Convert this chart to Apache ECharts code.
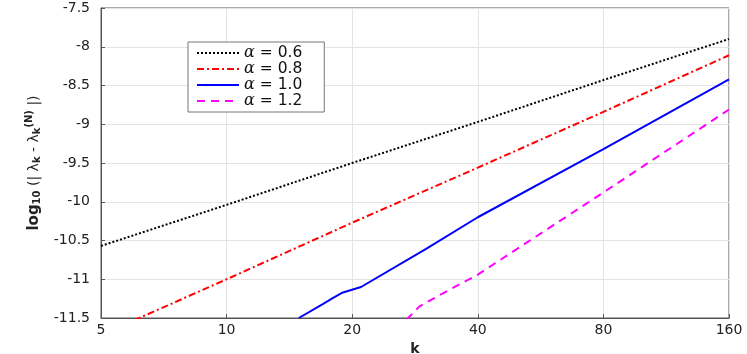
<!DOCTYPE html>
<html>
<head>
<meta charset="utf-8">
<script src="https://cdn.jsdelivr.net/npm/echarts@6/dist/echarts.min.js"></script>
<style>
html, body { margin: 0; padding: 0; background: #fff; }
#chart { width: 747px; height: 354px; }
</style>
</head>
<body>
<div id="chart"></div>
<script>
var seriesNames = ['α = 0.6', 'α = 0.8', 'α = 1.0', 'α = 1.2'];
var xTicks = [5, 10, 20, 40, 80, 160];

var k06 = [5, 10, 20, 40, 80, 160];
var y06 = [-10.57, -10.04, -9.50, -8.97, -8.43, -7.90];
var k08 = [6, 10, 20, 40, 80, 160];
var y08 = [-11.53, -11.00, -10.27, -9.56, -8.84, -8.11];
var k10 = [14.9, 17, 18, 19, 21, 30, 40, 80, 160];
var y10 = [-11.50, -11.32, -11.24, -11.17, -11.10, -10.61, -10.20, -9.32, -8.42];
var k12 = [27, 29, 32, 40, 80, 160];
var y12 = [-11.52, -11.35, -11.22, -10.94, -9.88, -8.81];

function pairs(ks, ys) {
  return ks.map(function (k, i) { return [k, ys[i]]; });
}

var myChart = echarts.init(document.getElementById('chart'));
var font = 'DejaVu Sans';

var option = {
  animation: false,
  backgroundColor: '#fff',
  grid: {
    left: 101, right: 18, top: 8, bottom: 36,
    outerBoundsMode: 'none',
    show: true, borderColor: '#555', borderWidth: 1
  },
  legend: {
    orient: 'vertical',
    left: 188, top: 42,
    padding: [3, 22, 3, 8],
    itemWidth: 42, itemHeight: 10, itemGap: 0,
    backgroundColor: '#fff',
    borderColor: '#777', borderWidth: 1, borderRadius: 0,
    data: seriesNames,
    itemStyle: { opacity: 0, borderWidth: 0 },
    formatter: function (name) {
      return '{a|α}' + name.slice(1);
    },
    textStyle: {
      fontFamily: font, fontSize: 15.5, lineHeight: 15, color: '#111',
      rich: {
        a: { fontFamily: 'DejaVu Serif', fontStyle: 'italic', fontSize: 16, lineHeight: 15, color: '#111' }
      }
    }
  },
  xAxis: {
    type: 'log',
    logBase: 2,
    min: 5, max: 160,
    name: 'k',
    nameLocation: 'middle',
    nameGap: 22,
    nameTextStyle: { fontFamily: font, fontSize: 14, fontWeight: 'bold', color: '#222' },
    axisLine: { lineStyle: { color: '#555' } },
    axisTick: { inside: true, length: 4, customValues: xTicks, lineStyle: { color: '#555' } },
    axisLabel: { customValues: xTicks, fontFamily: font, fontSize: 14, color: '#222', margin: 5 },
    splitLine: { show: true, lineStyle: { color: '#e4e4e4' } },
    minorTick: { show: false }
  },
  yAxis: {
    type: 'value',
    min: -11.5, max: -7.5, interval: 0.5,
    name: '{b|log}{s|10}{n| (| λ}{s|k}{n| - λ}{s|k}{p|(N)}{n| |)}',
    nameLocation: 'middle',
    nameRotate: 90,
    nameGap: 56,
    nameTextStyle: {
      fontFamily: font, fontSize: 14, color: '#222',
      rich: {
        b: { fontFamily: font, fontSize: 15, fontWeight: 'bold', color: '#222' },
        n: { fontFamily: font, fontSize: 14, color: '#222' },
        s: { fontFamily: font, fontSize: 10, fontWeight: 'bold', color: '#222', verticalAlign: 'bottom', padding: [6, 0, 0, 0] },
        p: { fontFamily: font, fontSize: 10, fontWeight: 'bold', color: '#222', verticalAlign: 'top', padding: [0, 0, 8, 0] }
      }
    },
    axisLine: { show: true, lineStyle: { color: '#555' } },
    axisTick: { show: true, inside: true, length: 4, lineStyle: { color: '#555' } },
    axisLabel: {
      fontFamily: font, fontSize: 14, color: '#222', margin: 11,
      formatter: function (v) { return String(v); }
    },
    splitLine: { show: true, lineStyle: { color: '#e4e4e4' } }
  },
  series: [
    {
      name: seriesNames[0], type: 'line', symbol: 'none',
      data: pairs(k06, y06),
      lineStyle: { color: '#000', width: 2, type: [2, 2] },
      itemStyle: { color: '#000' }
    },
    {
      name: seriesNames[1], type: 'line', symbol: 'none',
      data: pairs(k08, y08),
      lineStyle: { color: '#ff0000', width: 2, type: [7, 3, 2, 3] },
      itemStyle: { color: '#ff0000' }
    },
    {
      name: seriesNames[2], type: 'line', symbol: 'none',
      data: pairs(k10, y10),
      lineStyle: { color: '#0000ff', width: 2, type: 'solid' },
      itemStyle: { color: '#0000ff' }
    },
    {
      name: seriesNames[3], type: 'line', symbol: 'none',
      data: pairs(k12, y12),
      lineStyle: { color: '#ff00ff', width: 2, type: [8, 6] },
      itemStyle: { color: '#ff00ff' }
    }
  ]
};

myChart.setOption(option);
</script>
</body>
</html>
